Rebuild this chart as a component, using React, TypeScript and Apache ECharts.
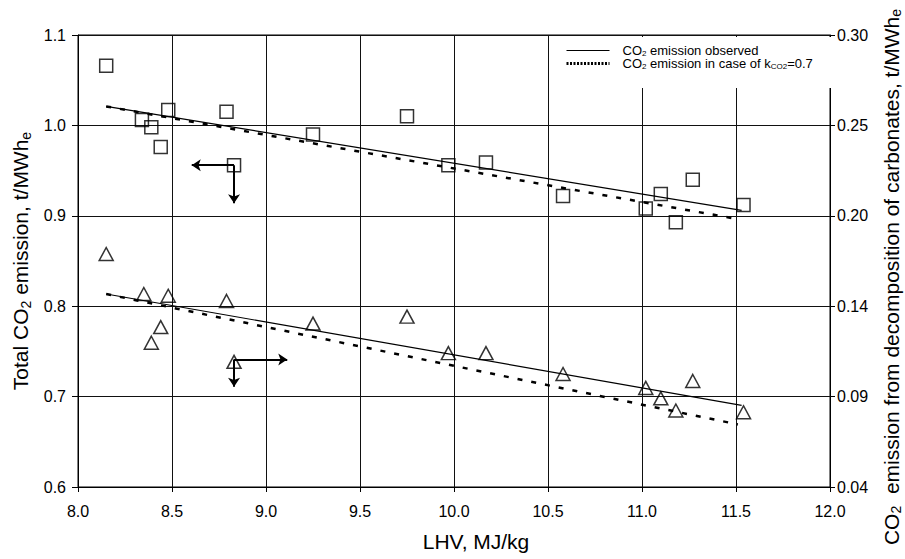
import React, { useEffect, useRef } from 'react';
import * as echarts from 'echarts';

const FONT = '"Liberation Sans", Arial, Helvetica, sans-serif';

// Squares: total CO2 emission (left axis), t/MWhe
const lhvSquares = [8.15, 8.34, 8.39, 8.44, 8.48, 8.79, 8.83, 9.25, 9.75, 9.97, 10.17, 10.58, 11.02, 11.10, 11.18, 11.27, 11.54];
const totalCO2 = [1.066, 1.006, 0.998, 0.976, 1.017, 1.015, 0.956, 0.990, 1.010, 0.956, 0.959, 0.922, 0.908, 0.924, 0.893, 0.940, 0.912];

// Triangles: CO2 from decomposition of carbonates (right axis), t/MWhe
const lhvTriangles = [8.15, 8.35, 8.39, 8.44, 8.48, 8.79, 8.83, 9.25, 9.75, 9.97, 10.17, 10.58, 11.02, 11.10, 11.18, 11.27, 11.54];
const carbonateCO2 = [0.174, 0.151, 0.123, 0.132, 0.150, 0.147, 0.112, 0.134, 0.138, 0.117, 0.117, 0.105, 0.097, 0.091, 0.084, 0.101, 0.083];

// Trend lines (end points: [LHV, value])
const totalObserved = [[8.15, 1.021], [11.53, 0.906]];
const totalK07 = [[8.15, 1.021], [11.52, 0.896]];
const carbObserved = [[8.15, 0.151], [11.53, 0.087]];
const carbK07 = [[8.15, 0.151], [11.51, 0.076]];

// Axis-indicator arrows (left-axis units)
const squareArrows = [
  [[8.83, 0.956], [8.605, 0.956]],
  [[8.83, 0.956], [8.83, 0.914]],
];
const triangleArrows = [
  [[8.83, 0.741], [9.113, 0.741]],
  [[8.83, 0.741], [8.83, 0.711]],
];

// Axis ranges
const xRange = [8.0, 12.0, 0.5];
const leftRange = [0.6, 1.1, 0.1];
const rightRange = [0.04, 0.30, 0.052];

const legendLabels: Record<string, string> = {
  observed: 'CO{s|2} emission observed',
  k07: 'CO{s|2} emission in case of k{s|CO2}=0.7',
};

export default function App() {
  const ref = useRef<HTMLDivElement>(null);
  useEffect(() => {
    const chart = echarts.init(ref.current!, null, { renderer: 'svg' });
    const black = '#000';
    const nameRich = {
      s: { fontSize: 14, lineHeight: 14, verticalAlign: 'bottom', fontFamily: FONT, color: black },
    };
    chart.setOption({
      animation: false,
      backgroundColor: '#fff',
      color: [black],
      textStyle: { fontFamily: FONT, color: black },
      grid: {
        left: 78,
        right: 75,
        top: 35,
        bottom: 72,
        containLabel: false,
        outerBoundsMode: 'none',
        show: true,
        borderColor: black,
        borderWidth: 1,
        backgroundColor: 'transparent',
      },
      legend: {
        orient: 'vertical',
        left: 549,
        top: 37,
        padding: [7, 24, 18, 16],
        backgroundColor: '#fff',
        itemWidth: 43,
        itemHeight: 8,
        itemGap: 0,
        selectedMode: false,
        data: [
          { name: 'observed', itemStyle: { opacity: 0 }, lineStyle: { color: black, width: 1.2, type: 'solid' } },
          { name: 'k07', itemStyle: { opacity: 0 }, lineStyle: { color: black, width: 3, type: [2, 1.5] } },
        ],
        formatter: (n: string) => legendLabels[n],
        textStyle: {
          fontFamily: FONT,
          fontSize: 13,
          lineHeight: 13,
          color: black,
          padding: [0, 0, 0, 8],
          rich: {
            s: { fontSize: 8, lineHeight: 9, verticalAlign: 'bottom', fontFamily: FONT, color: black },
          },
        },
      },
      xAxis: {
        type: 'value',
        min: xRange[0],
        max: xRange[1],
        interval: xRange[2],
        name: 'LHV, MJ/kg',
        nameLocation: 'middle',
        nameGap: 44,
        nameTextStyle: { fontSize: 21, fontFamily: FONT, color: black, padding: [0, 0, 0, 44] },
        axisLine: { show: true, lineStyle: { color: black, width: 1 } },
        axisTick: { show: true, inside: false, length: 5, lineStyle: { color: black } },
        axisLabel: { fontSize: 16, margin: 16, color: black, fontFamily: FONT, formatter: (v: number) => v.toFixed(1) },
        splitLine: { show: true, lineStyle: { color: '#111', width: 1 } },
      },
      yAxis: [
        {
          type: 'value',
          position: 'left',
          min: leftRange[0],
          max: leftRange[1],
          interval: leftRange[2],
          name: 'Total CO{s|2} emission, t/MWh{s|e}',
          nameLocation: 'middle',
          nameRotate: 90,
          nameGap: 45,
          nameTextStyle: { fontSize: 21, lineHeight: 24, fontFamily: FONT, color: black, rich: nameRich },
          axisLine: { show: true, lineStyle: { color: black, width: 1 } },
          axisTick: { show: true, inside: false, length: 6, lineStyle: { color: black } },
          axisLabel: { fontSize: 16, margin: 12, color: black, fontFamily: FONT, formatter: (v: number) => v.toFixed(1) },
          splitLine: { show: true, lineStyle: { color: '#111', width: 1 } },
        },
        {
          type: 'value',
          position: 'right',
          min: rightRange[0],
          max: rightRange[1],
          interval: rightRange[2],
          name: 'CO{s|2}  emission from decomposition of carbonates, t/MWh{s|e}',
          nameLocation: 'middle',
          nameRotate: 90,
          nameGap: 46,
          nameTextStyle: { fontSize: 21, lineHeight: 24, fontFamily: FONT, color: black, rich: nameRich, padding: [0, 32, 0, 0] },
          axisLine: { show: true, lineStyle: { color: black, width: 1 } },
          axisTick: { show: true, inside: false, length: 5, lineStyle: { color: black } },
          axisLabel: { fontSize: 16, margin: 7, color: black, fontFamily: FONT, formatter: (v: number) => v.toFixed(2) },
          splitLine: { show: false },
        },
      ],
      series: [
        {
          name: 'observed',
          type: 'line',
          yAxisIndex: 0,
          data: totalObserved,
          symbol: 'none',
          silent: true,
          itemStyle: { color: black },
          lineStyle: { color: black, width: 1.2, type: 'solid' },
          z: 3,
        },
        {
          name: 'k07',
          type: 'line',
          yAxisIndex: 0,
          data: totalK07,
          symbol: 'none',
          silent: true,
          itemStyle: { color: black },
          lineStyle: { color: black, width: 2.5, type: [5, 9] },
          z: 3,
        },
        {
          name: 'observed',
          type: 'line',
          yAxisIndex: 1,
          data: carbObserved,
          symbol: 'none',
          silent: true,
          itemStyle: { color: black },
          lineStyle: { color: black, width: 1.2, type: 'solid' },
          z: 3,
        },
        {
          name: 'k07',
          type: 'line',
          yAxisIndex: 1,
          data: carbK07,
          symbol: 'none',
          silent: true,
          itemStyle: { color: black },
          lineStyle: { color: black, width: 2.5, type: [5, 9] },
          z: 3,
        },
        {
          name: 'total',
          type: 'scatter',
          yAxisIndex: 0,
          data: lhvSquares.map((x, i) => [x, totalCO2[i]]),
          symbol: 'rect',
          symbolSize: 13,
          silent: true,
          itemStyle: { color: 'rgba(0,0,0,0)', borderColor: black, borderWidth: 1.5 },
          z: 4,
        },
        {
          name: 'carbonates',
          type: 'scatter',
          yAxisIndex: 1,
          data: lhvTriangles.map((x, i) => [x, carbonateCO2[i]]),
          symbol: 'triangle',
          symbolSize: [14, 13],
          silent: true,
          itemStyle: { color: 'rgba(0,0,0,0)', borderColor: black, borderWidth: 1.5 },
          z: 4,
        },
        {
          name: 'arrows',
          type: 'lines',
          coordinateSystem: 'cartesian2d',
          xAxisIndex: 0,
          yAxisIndex: 0,
          silent: true,
          symbol: ['none', 'arrow'],
          symbolSize: 9,
          lineStyle: { color: black, width: 2, opacity: 1, curveness: 0 },
          data: [...squareArrows, ...triangleArrows].map((c) => ({ coords: c })),
          z: 5,
        },
      ],
    });
    return () => chart.dispose();
  }, []);
  return <div ref={ref} style={{ position: 'fixed', left: 0, top: 0, width: 905, height: 559 }} />;
}
